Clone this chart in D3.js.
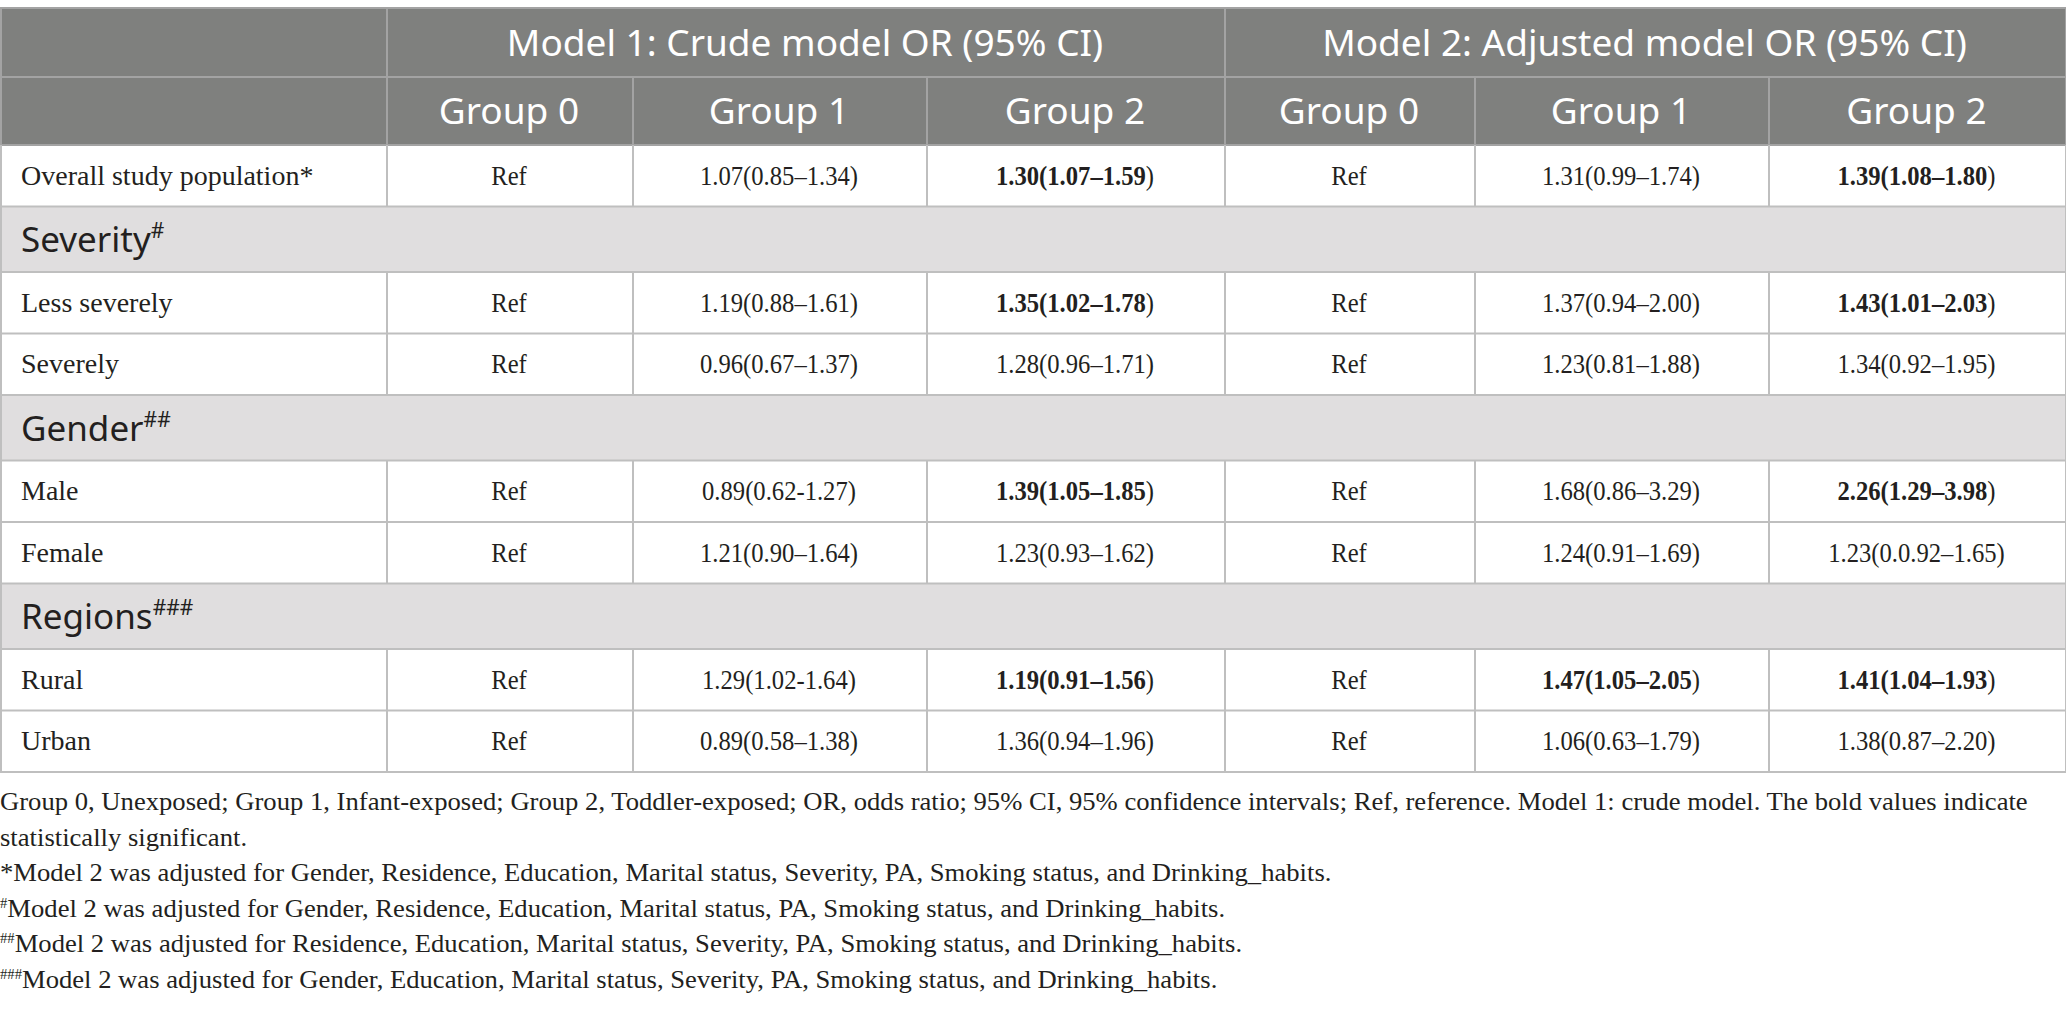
<!DOCTYPE html>
<html>
  <head>
    <meta charset="utf-8">
    <script src="https://d3js.org/d3.v7.min.js"></script>
    <title>Odds ratios by exposure group</title>
    <style>
      body { margin: 0; background: #fff; }
      .hd { font-family: "Noto Sans", "Open Sans", sans-serif; fill: #fff; font-size: 37px; }
      .sec { font-family: "Noto Sans", "Open Sans", sans-serif; fill: #231f20; font-size: 35px; }
      .cell { font-family: "Liberation Serif", serif; fill: #231f20; font-size: 28px; }
      .note { font-family: "Liberation Serif", serif; fill: #231f20; font-size: 25px; }
    </style>
  </head>
  <body>
    <svg width="2066" height="1015"></svg>
    <script>
      // table content
      const models = ['Model 1: Crude model OR (95% CI)', 'Model 2: Adjusted model OR (95% CI)'];
      const groups = ['Group 0', 'Group 1', 'Group 2'];
      const sections = ['', 'Severity', 'Gender', 'Regions'];
      const sectionMarks = ['', '#', '##', '###'];
      const rowLabels = ['Overall study population*', 'Less severely', 'Severely', 'Male', 'Female', 'Rural', 'Urban'];
      const rowSection = [0, 1, 1, 2, 2, 3, 3];
      const m1g0 = ['Ref', 'Ref', 'Ref', 'Ref', 'Ref', 'Ref', 'Ref'];
      const m1g1 = ['1.07(0.85–1.34)', '1.19(0.88–1.61)', '0.96(0.67–1.37)', '0.89(0.62-1.27)', '1.21(0.90–1.64)', '1.29(1.02-1.64)', '0.89(0.58–1.38)'];
      const m1g2 = ['1.30(1.07–1.59)', '1.35(1.02–1.78)', '1.28(0.96–1.71)', '1.39(1.05–1.85)', '1.23(0.93–1.62)', '1.19(0.91–1.56)', '1.36(0.94–1.96)'];
      const m2g0 = ['Ref', 'Ref', 'Ref', 'Ref', 'Ref', 'Ref', 'Ref'];
      const m2g1 = ['1.31(0.99–1.74)', '1.37(0.94–2.00)', '1.23(0.81–1.88)', '1.68(0.86–3.29)', '1.24(0.91–1.69)', '1.47(1.05–2.05)', '1.06(0.63–1.79)'];
      const m2g2 = ['1.39(1.08–1.80)', '1.43(1.01–2.03)', '1.34(0.92–1.95)', '2.26(1.29–3.98)', '1.23(0.0.92–1.65)', '1.41(1.04–1.93)', '1.38(0.87–2.20)'];
      const m1g1Bold = [0, 0, 0, 0, 0, 0, 0];
      const m1g2Bold = [1, 1, 0, 1, 0, 1, 0];
      const m2g1Bold = [0, 0, 0, 0, 0, 1, 0];
      const m2g2Bold = [1, 1, 0, 1, 0, 1, 0];
      const notes = [
        ['', 'Group 0, Unexposed; Group 1, Infant-exposed; Group 2, Toddler-exposed; OR, odds ratio; 95% CI, 95% confidence intervals; Ref, reference. Model 1: crude model. The bold values indicate'],
        ['', 'statistically significant.'],
        ['', '*Model 2 was adjusted for Gender, Residence, Education, Marital status, Severity, PA, Smoking status, and Drinking_habits.'],
        ['#', 'Model 2 was adjusted for Gender, Residence, Education, Marital status, PA, Smoking status, and Drinking_habits.'],
        ['##', 'Model 2 was adjusted for Residence, Education, Marital status, Severity, PA, Smoking status, and Drinking_habits.'],
        ['###', 'Model 2 was adjusted for Gender, Education, Marital status, Severity, PA, Smoking status, and Drinking_habits.']
      ];

      const svg = d3.select('svg');
      const W = +svg.attr('width');

      // column edges
      const colEdges = [0, 386, 632, 926, 1224, 1474, 1768, W - 1];
      const colMid = i => (colEdges[i] + colEdges[i + 1]) / 2;

      // build row list: two header rows, then section rows and data rows
      const rows = [{ type: 'h1', h: 69 }, { type: 'h2', h: 68 }];
      rowLabels.forEach((lab, i) => {
        const s = rowSection[i];
        if (s > 0 && (i === 0 || rowSection[i - 1] !== s)) rows.push({ type: 'sec', h: 65.5, s });
        rows.push({ type: 'data', h: 61.5, i });
      });
      let yAcc = 8;
      rows.forEach(r => { r.y0 = yAcc; yAcc += r.h; r.y1 = yAcc; r.cy = (r.y0 + r.y1) / 2; });
      const tableBottom = yAcc;

      const gBg = svg.append('g');
      const gLines = svg.append('g');
      const gText = svg.append('g');

      // backgrounds
      gBg.append('rect')
          .attr('x', 0).attr('y', rows[0].y0)
          .attr('width', W).attr('height', rows[1].y1 - rows[0].y0)
          .attr('fill', '#7f807e');
      gBg.selectAll('rect.secbg').data(rows.filter(r => r.type === 'sec'))
        .enter().append('rect')
          .attr('class', 'secbg')
          .attr('x', 0).attr('y', d => d.y0)
          .attr('width', W).attr('height', d => d.h)
          .attr('fill', '#e0dedf');

      // horizontal rules
      const hLines = [rows[0].y0].concat(rows.map(r => r.y1));
      gLines.selectAll('line.h').data(hLines)
        .enter().append('line')
          .attr('x1', 0).attr('x2', W)
          .attr('y1', d => d).attr('y2', d => d)
          .attr('stroke', (d, i) => i <= 2 ? '#a3a3a3' : '#bfbfbf')
          .attr('stroke-width', 2);

      // vertical rules
      rows.forEach(r => {
        let edges;
        if (r.type === 'h1') edges = [colEdges[0], colEdges[1], colEdges[4], colEdges[7]];
        else if (r.type === 'sec') edges = [colEdges[0], colEdges[7]];
        else edges = colEdges;
        const col = (r.type === 'h1' || r.type === 'h2') ? '#a3a3a3' : '#bfbfbf';
        gLines.selectAll(null).data(edges)
          .enter().append('line')
            .attr('x1', d => d + 1).attr('x2', d => d + 1)
            .attr('y1', r.y0).attr('y2', r.y1)
            .attr('stroke', col)
            .attr('stroke-width', 2);
      });

      // header texts
      gText.selectAll('text.m').data(models)
        .enter().append('text')
          .attr('class', 'hd')
          .attr('x', (d, i) => (colEdges[1 + i * 3] + colEdges[4 + i * 3]) / 2)
          .attr('y', rows[0].cy + 13)
          .attr('text-anchor', 'middle')
          .text(d => d);
      const groupCells = [0, 1].flatMap(m => groups.map((g, j) => ({ g, c: 1 + m * 3 + j })));
      gText.selectAll('text.g').data(groupCells)
        .enter().append('text')
          .attr('class', 'hd')
          .attr('x', d => colMid(d.c))
          .attr('y', rows[1].cy + 13)
          .attr('text-anchor', 'middle')
          .text(d => d.g);

      // section rows
      rows.filter(r => r.type === 'sec').forEach(r => {
        const t = gText.append('text')
            .attr('class', 'sec')
            .attr('x', 21)
            .attr('y', r.cy + 13);
        t.append('tspan').text(sections[r.s]);
        t.append('tspan')
            .attr('font-size', '60%')
            .attr('dy', -14)
            .text(sectionMarks[r.s]);
      });

      // data rows; the numbers are narrowed a little to look like the source's condensed serif
      const cols = [m1g0, m1g1, m1g2, m2g0, m2g1, m2g2];
      const bolds = [null, m1g1Bold, m1g2Bold, null, m2g1Bold, m2g2Bold];
      rows.filter(r => r.type === 'data').forEach(r => {
        gText.append('text')
            .attr('class', 'cell')
            .attr('x', 21)
            .attr('y', r.cy + 9)
            .text(rowLabels[r.i]);
        cols.forEach((vals, c) => {
          const v = vals[r.i];
          const t = gText.append('text')
              .attr('class', 'cell')
              .attr('transform', `translate(${colMid(c + 1)},${r.cy + 9}) scale(0.88,1)`)
              .attr('text-anchor', 'middle');
          if (bolds[c] && bolds[c][r.i]) {
            t.append('tspan').attr('font-weight', 'bold').text(v.slice(0, -1));
            t.append('tspan').text(v.slice(-1));
          } else {
            t.text(v);
          }
        });
      });

      // footnotes
      const noteG = svg.append('g');
      const noteY0 = tableBottom + 38;
      noteG.selectAll('text').data(notes)
        .enter().append('text')
          .attr('class', 'note')
          .attr('x', 0)
          .attr('y', (d, i) => noteY0 + i * 35.6)
          .each(function (d) {
            const t = d3.select(this);
            if (d[0]) t.append('tspan').attr('font-size', '55%').attr('dy', -9).text(d[0]);
            t.append('tspan').attr('dy', d[0] ? 9 : 0).text(d[1]);
          });
      // fit the first line to the width it has in the source layout
      const w0 = noteG.select('text').node().getComputedTextLength();
      const sx = 2028 / w0;
      noteG.attr('transform', `scale(${sx},1)`);
    </script>
  </body>
</html>
